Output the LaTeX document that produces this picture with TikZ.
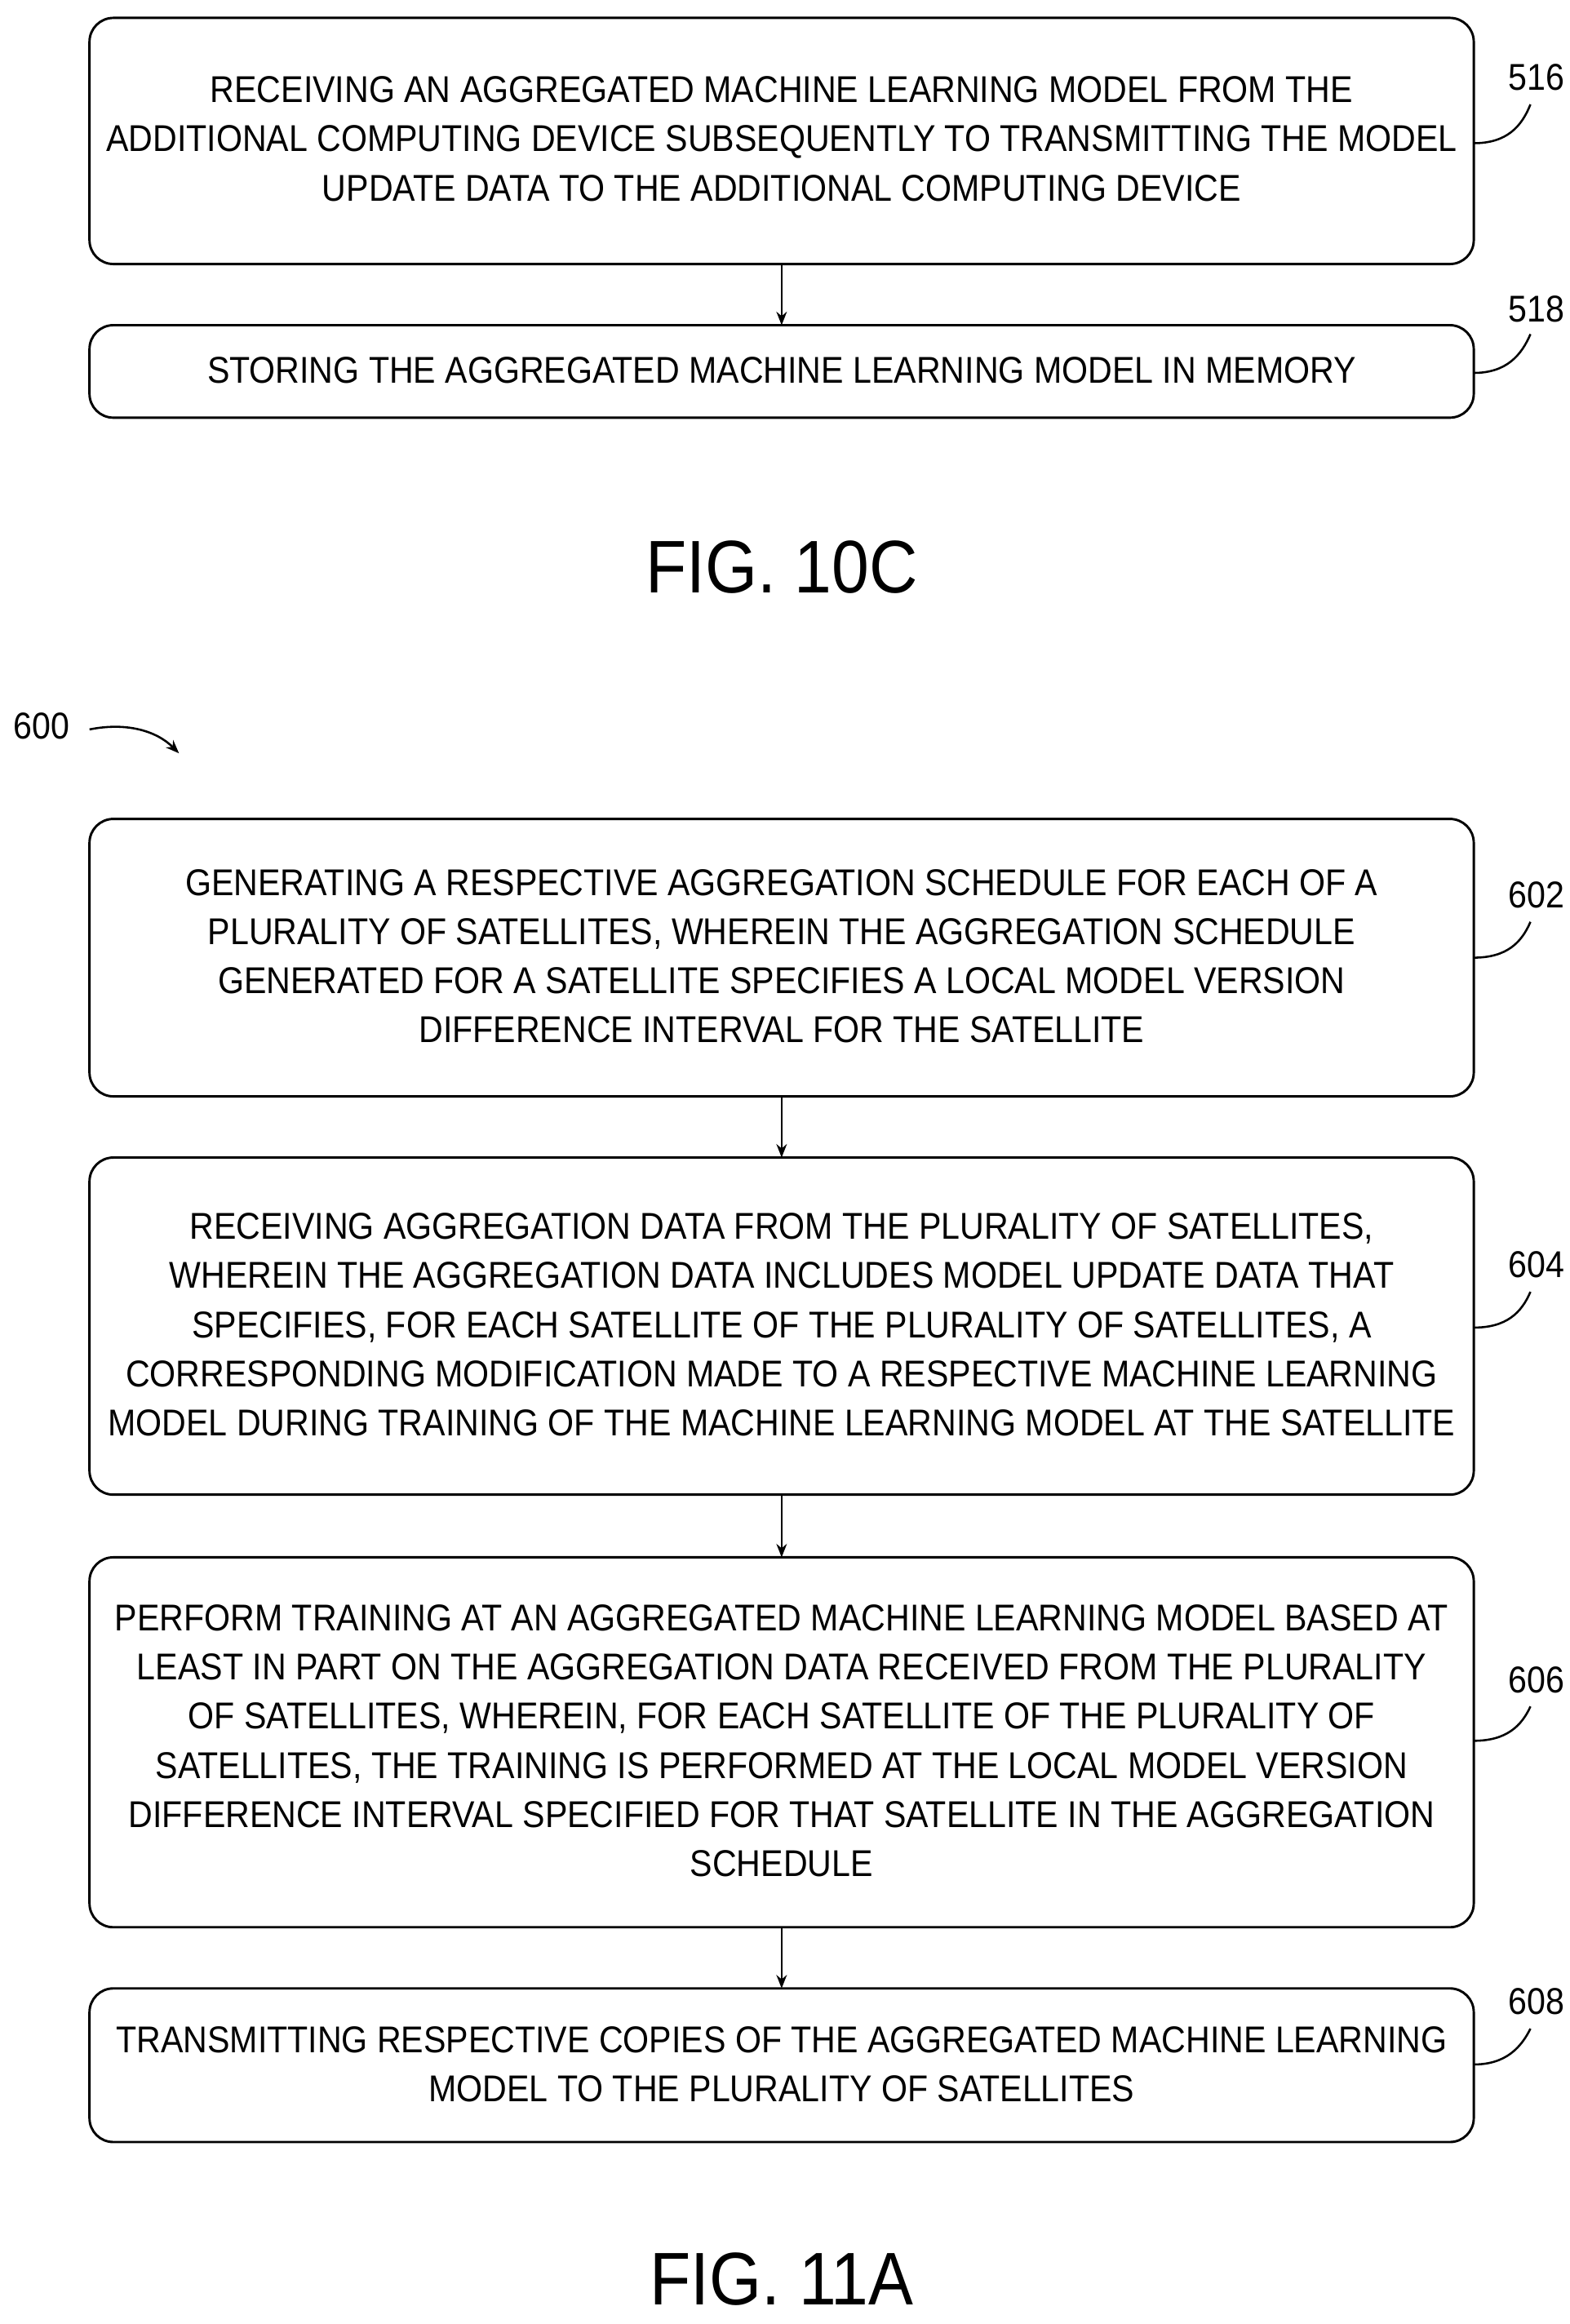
\documentclass[tikz,border=0pt]{standalone}
\usepackage{fontspec}
\setmainfont{Liberation Sans}[FakeStretch=0.9]
\usetikzlibrary{arrows.meta}
\begin{document}
\begin{tikzpicture}[x=1pt,y=-1pt,
 box/.style={draw,line width=1.6pt,rounded corners=16pt},
 txt/.style={align=center,font=\fontsize{25}{33}\selectfont},
 lbl/.style={font=\fontsize{25}{30}\selectfont},
 arr/.style={-{Stealth[length=9pt,width=7pt]},line width=1.4pt},
 lead/.style={line width=1.4pt},
 fig/.style={font=\fontsize{50}{60}\selectfont}]
\useasboundingbox (0,0) rectangle (1052,1558);
\draw[box] (60,12) rectangle (988,177);
\node[txt] (t516) at (524,93) {RECEIVING AN AGGREGATED MACHINE LEARNING MODEL FROM THE\\ADDITIONAL COMPUTING DEVICE SUBSEQUENTLY TO TRANSMITTING THE MODEL\\UPDATE DATA TO THE ADDITIONAL COMPUTING DEVICE};
\draw[box] (60,218) rectangle (988,280);
\node[txt] (t518) at (524,248) {STORING THE AGGREGATED MACHINE LEARNING MODEL IN MEMORY};
\coordinate (a1) at (524,177); \coordinate (b1) at (524,218);
\draw[arr] (a1) -- (b1);
\node[lbl] (l516) at (1030,52) {516};
\node[lbl] (l518) at (1030,207) {518};
\coordinate (c516) at (988,96); \coordinate (c518) at (988,250);
\draw[lead] (c516) .. controls (1010,96) and (1020,85) .. (1026,70);
\draw[lead] (c518) .. controls (1010,250) and (1020,238) .. (1026,224);
\node[fig] (f10) at (524,380) {FIG. 10C};

\node[lbl] (l600) at (28,487) {600};
\coordinate (s600) at (60,489); \coordinate (e600) at (120,505);
\draw[-{Stealth[length=9pt,width=7pt]},line width=1.4pt] (s600) .. controls (85,484) and (105,490) .. (e600);

\draw[box] (60,549) rectangle (988,735);
\node[txt] (t602) at (524,641) {GENERATING A RESPECTIVE AGGREGATION SCHEDULE FOR EACH OF A\\PLURALITY OF SATELLITES, WHEREIN THE AGGREGATION SCHEDULE\\GENERATED FOR A SATELLITE SPECIFIES A LOCAL MODEL VERSION\\DIFFERENCE INTERVAL FOR THE SATELLITE};
\draw[box] (60,776) rectangle (988,1002);
\node[txt] (t604) at (524,888) {RECEIVING AGGREGATION DATA FROM THE PLURALITY OF SATELLITES,\\WHEREIN THE AGGREGATION DATA INCLUDES MODEL UPDATE DATA THAT\\SPECIFIES, FOR EACH SATELLITE OF THE PLURALITY OF SATELLITES, A\\CORRESPONDING MODIFICATION MADE TO A RESPECTIVE MACHINE LEARNING\\MODEL DURING TRAINING OF THE MACHINE LEARNING MODEL AT THE SATELLITE};
\draw[box] (60,1044) rectangle (988,1292);
\node[txt] (t606) at (524,1167) {PERFORM TRAINING AT AN AGGREGATED MACHINE LEARNING MODEL BASED AT\\LEAST IN PART ON THE AGGREGATION DATA RECEIVED FROM THE PLURALITY\\OF SATELLITES, WHEREIN, FOR EACH SATELLITE OF THE PLURALITY OF\\SATELLITES, THE TRAINING IS PERFORMED AT THE LOCAL MODEL VERSION\\DIFFERENCE INTERVAL SPECIFIED FOR THAT SATELLITE IN THE AGGREGATION\\SCHEDULE};
\draw[box] (60,1333) rectangle (988,1436);
\node[txt] (t608) at (524,1384) {TRANSMITTING RESPECTIVE COPIES OF THE AGGREGATED MACHINE LEARNING\\MODEL TO THE PLURALITY OF SATELLITES};
\coordinate (a2) at (524,735); \coordinate (b2) at (524,776);
\coordinate (a3) at (524,1002); \coordinate (b3) at (524,1044);
\coordinate (a4) at (524,1292); \coordinate (b4) at (524,1333);
\draw[arr] (a2) -- (b2);
\draw[arr] (a3) -- (b3);
\draw[arr] (a4) -- (b4);
\node[lbl] (l602) at (1030,600) {602};
\node[lbl] (l604) at (1030,848) {604};
\node[lbl] (l606) at (1030,1126) {606};
\node[lbl] (l608) at (1030,1342) {608};
\coordinate (c602) at (988,642); \coordinate (c604) at (988,890);
\coordinate (c606) at (988,1167); \coordinate (c608) at (988,1384);
\draw[lead] (c602) .. controls (1010,642) and (1020,632) .. (1026,618);
\draw[lead] (c604) .. controls (1010,890) and (1020,880) .. (1026,866);
\draw[lead] (c606) .. controls (1010,1167) and (1020,1157) .. (1026,1144);
\draw[lead] (c608) .. controls (1010,1384) and (1020,1372) .. (1026,1360);
\node[fig] (f11) at (524,1528) {FIG. 11A};
\end{tikzpicture}
\end{document}
